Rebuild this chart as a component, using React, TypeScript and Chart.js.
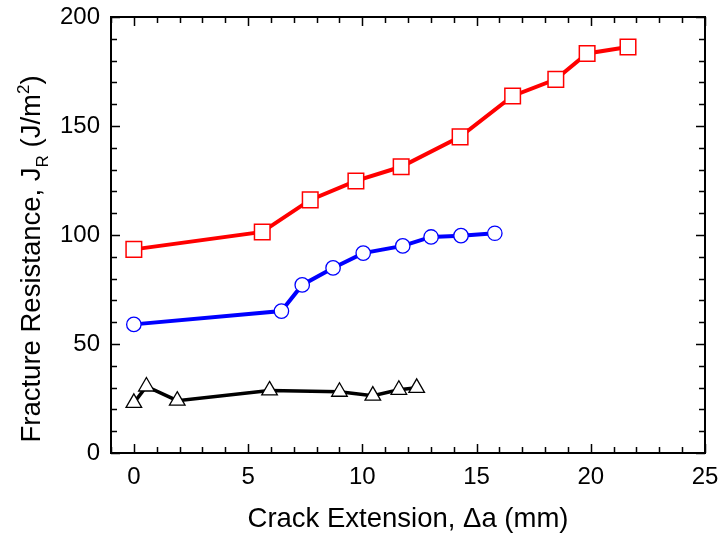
import React, { useEffect, useRef } from "react";
import { Chart, registerables } from "chart.js";

Chart.register(...registerables);

// Data
const redX = [0, 5.62, 7.72, 9.72, 11.7, 14.28, 16.58, 18.47, 19.84, 21.63];
const redY = [93.4, 101.4, 116.1, 124.8, 131.3, 145, 163.8, 171.4, 183.3, 186.2];
const blueX = [0, 6.46, 7.37, 8.72, 10.04, 11.77, 13.01, 14.32, 15.8];
const blueY = [59, 65.1, 77.1, 84.9, 91.7, 95, 99.1, 99.7, 100.8];
const blackX = [0, 0.55, 1.9, 5.94, 9.0, 10.46, 11.6, 12.38];
const blackY = [23.0, 30.5, 24.0, 28.7, 28.1, 26.3, 29.0, 29.9];

const xTickLabels = [0, 5, 10, 15, 20, 25];
const yTickLabels = [0, 50, 100, 150, 200];
const xMinorStep = 1;
const yMinorStep = 10;

const xTitle = "Crack Extension, \u0394a (mm)";
const yTitleMain = "Fracture Resistance, J";
const yTitleSub = "R";
const yTitleMid = " (J/m";
const yTitleSup = "2";
const yTitleEnd = ")";

const FONT = "'Liberation Sans', Arial, Helvetica, sans-serif";

const toPts = (xs: number[], ys: number[]) => xs.map((x, i) => ({ x, y: ys[i] }));

const zeroPad = (s: any) => {
  s.paddingTop = 0;
  s.paddingBottom = 0;
  s.paddingLeft = 0;
  s.paddingRight = 0;
};

const framePlugin = {
  id: "frameTicks",
  afterDraw(chart: any) {
    const ctx = chart.ctx;
    const { left, right, top, bottom } = chart.chartArea;
    const xs = chart.scales.x;
    const ys = chart.scales.y;
    ctx.save();
    ctx.strokeStyle = "#000";
    ctx.lineWidth = 2;
    ctx.strokeRect(left, top, right - left, bottom - top);
    ctx.lineWidth = 1.5;
    ctx.beginPath();
    for (let v = xs.min; v <= xs.max + 1e-9; v += xMinorStep) {
      const p = Math.round(xs.getPixelForValue(v)) + 0.5;
      const len = Math.abs(v % 5) < 1e-9 ? 9 : 6;
      ctx.moveTo(p, bottom);
      ctx.lineTo(p, bottom - len);
      ctx.moveTo(p, top);
      ctx.lineTo(p, top + len);
    }
    for (let v = ys.min; v <= ys.max + 1e-9; v += yMinorStep) {
      const p = Math.round(ys.getPixelForValue(v)) + 0.5;
      const len = Math.abs(v % 50) < 1e-9 ? 9 : 6;
      ctx.moveTo(left, p);
      ctx.lineTo(left + len, p);
      ctx.moveTo(right, p);
      ctx.lineTo(right - len, p);
    }
    ctx.stroke();

    // axis titles
    const size = 27.5;
    ctx.fillStyle = "#000";
    ctx.font = `${size}px ${FONT}`;
    ctx.textAlign = "center";
    ctx.textBaseline = "middle";
    ctx.fillText(xTitle, (left + right) / 2, 519);

    // y title with subscript / superscript
    const small = Math.round(size * 0.62);
    const parts = [
      { t: yTitleMain, f: size, dy: 0 },
      { t: yTitleSub, f: small, dy: size * 0.3 },
      { t: yTitleMid, f: size, dy: 0 },
      { t: yTitleSup, f: small, dy: -size * 0.38 },
      { t: yTitleEnd, f: size, dy: 0 },
    ];
    let total = 0;
    for (const p of parts) {
      ctx.font = `${p.f}px ${FONT}`;
      total += ctx.measureText(p.t).width;
    }
    ctx.translate(30, 259);
    ctx.rotate(-Math.PI / 2);
    ctx.textAlign = "left";
    ctx.textBaseline = "alphabetic";
    let cx = -total / 2;
    const base = size * 0.36;
    for (const p of parts) {
      ctx.font = `${p.f}px ${FONT}`;
      ctx.fillText(p.t, cx, base + p.dy);
      cx += ctx.measureText(p.t).width;
    }
    ctx.restore();
  },
};

export default function App() {
  const ref = useRef<HTMLCanvasElement | null>(null);
  useEffect(() => {
    if (!ref.current) return;
    const tickFont = { family: FONT, size: 24 };
    const chart = new Chart(ref.current, {
      type: "scatter",
      data: {
        datasets: [
          {
            data: toPts(blackX, blackY),
            showLine: true,
            borderColor: "#000000",
            borderWidth: 3.5,
            pointStyle: "triangle",
            pointRadius: 9,
            pointBorderWidth: 1.3,
            pointBorderColor: "#000000",
            pointBackgroundColor: "#ffffff",
          },
          {
            data: toPts(blueX, blueY),
            showLine: true,
            borderColor: "#0000ff",
            borderWidth: 4,
            pointStyle: "circle",
            pointRadius: 7.2,
            pointBorderWidth: 1.3,
            pointBorderColor: "#0000ff",
            pointBackgroundColor: "#ffffff",
          },
          {
            data: toPts(redX, redY),
            showLine: true,
            borderColor: "#ff0000",
            borderWidth: 4,
            pointStyle: "rect",
            pointRadius: 11,
            pointBorderWidth: 1.5,
            pointBorderColor: "#ff0000",
            pointBackgroundColor: "#ffffff",
          },
        ],
      },
      options: {
        responsive: false,
        animation: false,
        devicePixelRatio: 1,
        layout: { padding: { left: 0, right: 16, top: 17, bottom: 0 } },
        plugins: { legend: { display: false }, tooltip: { enabled: false } },
        scales: {
          x: {
            type: "linear",
            min: -1,
            max: 25,
            grid: { display: false, drawTicks: false },
            border: { display: false },
            afterBuildTicks: (s: any) => {
              s.ticks = xTickLabels.map((v) => ({ value: v }));
            },
            afterFit: (s: any) => {
              s.height = 85;
              zeroPad(s);
            },
            ticks: { font: tickFont, color: "#000", padding: 10, maxRotation: 0, autoSkip: false },
          },
          y: {
            type: "linear",
            min: 0,
            max: 200,
            grid: { display: false, drawTicks: false },
            border: { display: false },
            afterBuildTicks: (s: any) => {
              s.ticks = yTickLabels.map((v) => ({ value: v }));
            },
            afterFit: (s: any) => {
              s.width = 111;
              zeroPad(s);
            },
            ticks: { font: tickFont, color: "#000", padding: 11, autoSkip: false },
          },
        },
      },
      plugins: [framePlugin],
    });
    return () => chart.destroy();
  }, []);
  return (
    <div style={{ position: "absolute", left: 0, top: 0, width: 721, height: 538, background: "#fff" }}>
      <canvas ref={ref} width={721} height={538} style={{ display: "block" }} />
    </div>
  );
}
